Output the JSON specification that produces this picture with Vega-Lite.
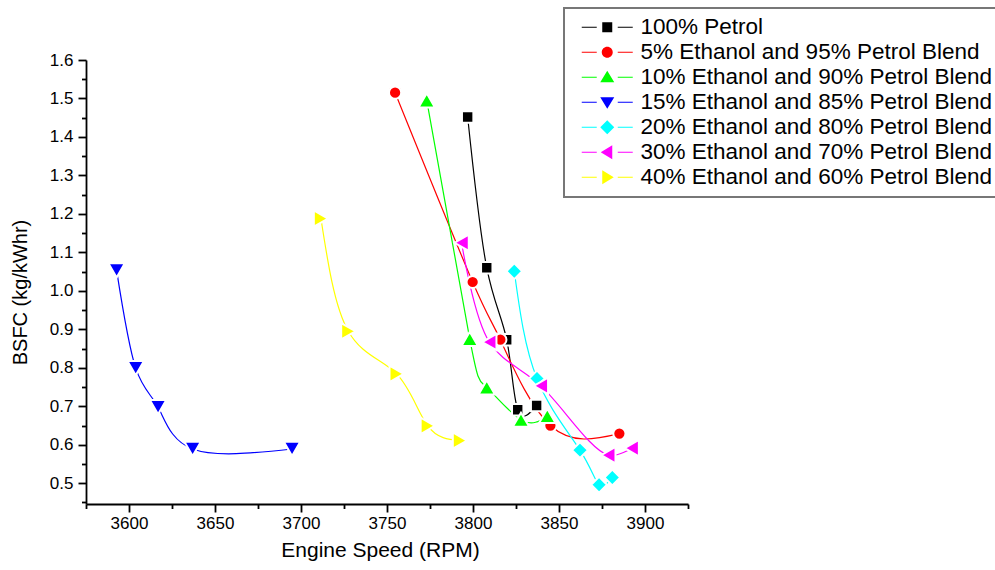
{
  "$schema": "https://vega.github.io/schema/vega-lite/v6.json",
  "width": 602,
  "height": 444,
  "autosize": {"type": "none"},
  "padding": {"left": 86, "top": 60, "right": 307, "bottom": 66},
  "background": "white",
  "config": {
    "font": "Liberation Sans",
    "view": {"stroke": null},
    "legend": {"strokeWidth": 2},
    "axis": {"grid": false, "domainColor": "black", "tickColor": "black", "labelColor": "black", "titleColor": "black", "domainWidth": 1.8, "tickWidth": 1.8, "labelFont": "Liberation Sans", "titleFont": "Liberation Sans", "titleFontWeight": "normal"}
  },
  "data": {
    "values": [
      {"series": "100% Petrol", "rpm": 3796.9, "bsfc": 1.452},
      {"series": "100% Petrol", "rpm": 3808.0, "bsfc": 1.060},
      {"series": "100% Petrol", "rpm": 3819.6, "bsfc": 0.873},
      {"series": "100% Petrol", "rpm": 3826.0, "bsfc": 0.691},
      {"series": "100% Petrol", "rpm": 3837.0, "bsfc": 0.702},
      {"series": "5% Ethanol and 95% Petrol Blend", "rpm": 3754.7, "bsfc": 1.515},
      {"series": "5% Ethanol and 95% Petrol Blend", "rpm": 3799.8, "bsfc": 1.023},
      {"series": "5% Ethanol and 95% Petrol Blend", "rpm": 3815.9, "bsfc": 0.873},
      {"series": "5% Ethanol and 95% Petrol Blend", "rpm": 3845.0, "bsfc": 0.650},
      {"series": "5% Ethanol and 95% Petrol Blend", "rpm": 3885.1, "bsfc": 0.629},
      {"series": "10% Ethanol and 90% Petrol Blend", "rpm": 3773.1, "bsfc": 1.495},
      {"series": "10% Ethanol and 90% Petrol Blend", "rpm": 3798.1, "bsfc": 0.875},
      {"series": "10% Ethanol and 90% Petrol Blend", "rpm": 3808.0, "bsfc": 0.749},
      {"series": "10% Ethanol and 90% Petrol Blend", "rpm": 3827.9, "bsfc": 0.665},
      {"series": "10% Ethanol and 90% Petrol Blend", "rpm": 3843.2, "bsfc": 0.675},
      {"series": "15% Ethanol and 85% Petrol Blend", "rpm": 3592.8, "bsfc": 1.053},
      {"series": "15% Ethanol and 85% Petrol Blend", "rpm": 3603.9, "bsfc": 0.799},
      {"series": "15% Ethanol and 85% Petrol Blend", "rpm": 3616.9, "bsfc": 0.698},
      {"series": "15% Ethanol and 85% Petrol Blend", "rpm": 3637.0, "bsfc": 0.589},
      {"series": "15% Ethanol and 85% Petrol Blend", "rpm": 3694.8, "bsfc": 0.589},
      {"series": "20% Ethanol and 80% Petrol Blend", "rpm": 3824.0, "bsfc": 1.051},
      {"series": "20% Ethanol and 80% Petrol Blend", "rpm": 3837.2, "bsfc": 0.772},
      {"series": "20% Ethanol and 80% Petrol Blend", "rpm": 3862.2, "bsfc": 0.586},
      {"series": "20% Ethanol and 80% Petrol Blend", "rpm": 3873.3, "bsfc": 0.496},
      {"series": "20% Ethanol and 80% Petrol Blend", "rpm": 3881.0, "bsfc": 0.515},
      {"series": "30% Ethanol and 70% Petrol Blend", "rpm": 3793.4, "bsfc": 1.125},
      {"series": "30% Ethanol and 70% Petrol Blend", "rpm": 3809.5, "bsfc": 0.867},
      {"series": "30% Ethanol and 70% Petrol Blend", "rpm": 3839.5, "bsfc": 0.753},
      {"series": "30% Ethanol and 70% Petrol Blend", "rpm": 3878.7, "bsfc": 0.573},
      {"series": "30% Ethanol and 70% Petrol Blend", "rpm": 3892.3, "bsfc": 0.591},
      {"series": "40% Ethanol and 60% Petrol Blend", "rpm": 3711.6, "bsfc": 1.188},
      {"series": "40% Ethanol and 60% Petrol Blend", "rpm": 3727.5, "bsfc": 0.895},
      {"series": "40% Ethanol and 60% Petrol Blend", "rpm": 3755.6, "bsfc": 0.784},
      {"series": "40% Ethanol and 60% Petrol Blend", "rpm": 3773.7, "bsfc": 0.649},
      {"series": "40% Ethanol and 60% Petrol Blend", "rpm": 3792.4, "bsfc": 0.611}
    ]
  },
  "resolve": {"scale": {"shape": "independent", "size": "independent"}, "legend": {"shape": "independent", "fill": "independent"}, "axis": {"x": "independent", "y": "independent"}},
  "layer": [
    {
      "transform": [{"filter": {"not": {"field": "series", "equal": "30% Ethanol and 70% Petrol Blend"}}}],
      "mark": {"type": "line", "interpolate": "natural", "strokeWidth": 1.2},
      "encoding": {
        "x": {"field": "rpm", "type": "quantitative", "scale": {"domain": [3575, 3925], "nice": false, "zero": false},
          "axis": {"orient": "bottom", "values": [3600, 3650, 3700, 3750, 3800, 3850, 3900], "format": "d", "tickSize": 8, "labelFontSize": 17, "labelPadding": 3, "title": "Engine Speed (RPM)", "titleFontSize": 21, "titlePadding": 8, "titleX": 294}},
        "y": {"field": "bsfc", "type": "quantitative", "scale": {"domain": [0.446, 1.6], "nice": false, "zero": false},
          "axis": {"orient": "left", "values": [0.5, 0.6, 0.7, 0.8, 0.9, 1.0, 1.1, 1.2, 1.3, 1.4, 1.5, 1.6], "format": ".1f", "tickSize": 8, "labelFontSize": 17, "labelPadding": 5, "title": "BSFC (kg/kWhr)", "titleFontSize": 20, "titlePadding": 19, "titleY": 232}},
        "color": {"field": "series", "type": "nominal",
          "scale": {"domain": ["100% Petrol", "5% Ethanol and 95% Petrol Blend", "10% Ethanol and 90% Petrol Blend", "15% Ethanol and 85% Petrol Blend", "20% Ethanol and 80% Petrol Blend", "30% Ethanol and 70% Petrol Blend", "40% Ethanol and 60% Petrol Blend"],
            "range": ["#000000", "#FF0000", "#00FF00", "#0000FF", "#00FFFF", "#FF00FF", "#FFFF00"]},
          "legend": null
        }
      }
    },
    {
      "transform": [{"filter": {"field": "series", "equal": "30% Ethanol and 70% Petrol Blend"}}],
      "mark": {"type": "line", "interpolate": "catmull-rom", "strokeWidth": 1.2},
      "encoding": {
        "x": {"field": "rpm", "type": "quantitative", "axis": null},
        "y": {"field": "bsfc", "type": "quantitative", "axis": null},
        "color": {"field": "series", "type": "nominal", "legend": null}
      }
    },
    {
      "mark": {"type": "point", "filled": true, "opacity": 1, "stroke": "white", "strokeWidth": 2, "strokeOpacity": 1},
      "encoding": {
        "x": {"field": "rpm", "type": "quantitative", "axis": null},
        "y": {"field": "bsfc", "type": "quantitative", "axis": null},
        "color": {"field": "series", "type": "nominal", "legend": null},
        "shape": {"field": "series", "type": "nominal", "legend": null,
          "scale": {"domain": ["100% Petrol", "5% Ethanol and 95% Petrol Blend", "10% Ethanol and 90% Petrol Blend", "15% Ethanol and 85% Petrol Blend", "20% Ethanol and 80% Petrol Blend", "30% Ethanol and 70% Petrol Blend", "40% Ethanol and 60% Petrol Blend"],
            "range": ["square", "circle", "triangle-up", "triangle-down", "diamond", "triangle-left", "triangle-right"]}},
        "size": {"field": "series", "type": "nominal", "legend": null,
          "scale": {"type": "ordinal", "domain": ["100% Petrol", "5% Ethanol and 95% Petrol Blend", "10% Ethanol and 90% Petrol Blend", "15% Ethanol and 85% Petrol Blend", "20% Ethanol and 80% Petrol Blend", "30% Ethanol and 70% Petrol Blend", "40% Ethanol and 60% Petrol Blend"],
            "range": [130, 150, 270, 270, 250, 270, 270]}}
      }
    },
    {
      "transform": [{"filter": {"field": "rpm", "lt": 0}}],
      "mark": {"type": "point", "filled": true, "size": 4},
      "encoding": {
        "x": {"field": "rpm", "type": "quantitative",
          "axis": {"orient": "bottom", "values": [3575, 3625, 3675, 3725, 3775, 3825, 3875, 3925], "tickSize": 4.5, "labels": false, "domain": false, "title": null}},
        "y": {"field": "bsfc", "type": "quantitative",
          "axis": {"orient": "left", "values": [0.45, 0.55, 0.65, 0.75, 0.85, 0.95, 1.05, 1.15, 1.25, 1.35, 1.45, 1.55], "tickSize": 4.5, "labels": false, "domain": false, "title": null}},
        "fill": {"field": "series", "type": "nominal",
          "scale": {"domain": ["100% Petrol", "5% Ethanol and 95% Petrol Blend", "10% Ethanol and 90% Petrol Blend", "15% Ethanol and 85% Petrol Blend", "20% Ethanol and 80% Petrol Blend", "30% Ethanol and 70% Petrol Blend", "40% Ethanol and 60% Petrol Blend"],
            "range": ["#000000", "#FF0000", "#00FF00", "#0000FF", "#00FFFF", "#FF00FF", "#FFFF00"]},
          "legend": {"orient": "none", "legendX": 478, "legendY": -52, "title": null, "labelFontSize": 22.5, "labelLimit": 600, "symbolSize": 4, "symbolStrokeWidth": 0, "symbolOffset": 24, "labelOffset": 22, "rowPadding": 2, "padding": 8, "strokeColor": "#777777", "fillColor": "white", "symbolOpacity": 1}},
        "shape": {"field": "series", "type": "nominal",
          "legend": {"orient": "none", "legendX": 478, "legendY": -52, "title": null, "labelFontSize": 22.5, "labelLimit": 600, "symbolSize": 4, "symbolStrokeWidth": 0, "symbolOffset": 24, "labelOffset": 22, "rowPadding": 2, "padding": 8, "strokeColor": "#777777", "fillColor": "white", "symbolOpacity": 1},
          "scale": {"domain": ["100% Petrol", "5% Ethanol and 95% Petrol Blend", "10% Ethanol and 90% Petrol Blend", "15% Ethanol and 85% Petrol Blend", "20% Ethanol and 80% Petrol Blend", "30% Ethanol and 70% Petrol Blend", "40% Ethanol and 60% Petrol Blend"],
            "range": [
              "M-25.5,-0.6H-10.5V0.6H-25.5Z M10.5,-0.6H25.5V0.6H10.5Z M-5,-5H5V5H-5Z",
              "M-25.5,-0.6H-10.5V0.6H-25.5Z M10.5,-0.6H25.5V0.6H10.5Z M-5.5,0A5.5,5.5,0,1,0,5.5,0A5.5,5.5,0,1,0,-5.5,0Z",
              "M-25.5,-0.6H-10.5V0.6H-25.5Z M10.5,-0.6H25.5V0.6H10.5Z M0,-6.5L7,5L-7,5Z",
              "M-25.5,-0.6H-10.5V0.6H-25.5Z M10.5,-0.6H25.5V0.6H10.5Z M0,6.5L7,-5L-7,-5Z",
              "M-25.5,-0.6H-10.5V0.6H-25.5Z M10.5,-0.6H25.5V0.6H10.5Z M0,-7L7,0L0,7L-7,0Z",
              "M-25.5,-0.6H-10.5V0.6H-25.5Z M10.5,-0.6H25.5V0.6H10.5Z M-6.5,0L5,-7L5,7Z",
              "M-25.5,-0.6H-10.5V0.6H-25.5Z M10.5,-0.6H25.5V0.6H10.5Z M6.5,0L-5,-7L-5,7Z"
            ]}}
      }
    }
  ]
}
